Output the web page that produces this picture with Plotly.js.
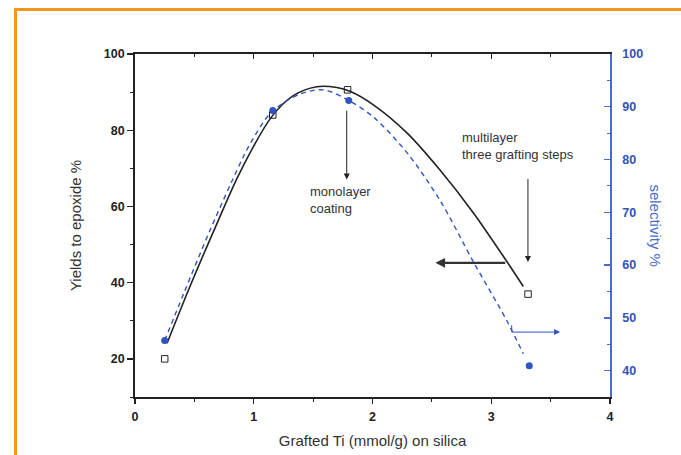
<!DOCTYPE html>
<html>
<head>
<meta charset="utf-8">
<script src="https://cdn.plot.ly/plotly-3.0.1.min.js"></script>
<style>
  html, body { margin: 0; padding: 0; background: #ffffff; }
  #wrap { position: relative; width: 681px; height: 455px; overflow: hidden; }
  #chart { width: 681px; height: 455px; }
  #frame {
    position: absolute; left: 14px; top: 8px; right: -10px; bottom: -10px;
    border-left: 3px solid #f7941d; border-top: 3px solid #f7941d;
    pointer-events: none;
  }
</style>
</head>
<body>
<div id="wrap">
  <div id="chart"></div>
  <div id="frame"></div>
</div>
<script>
// Measured samples: grafted Ti loading (mmol/g) vs. epoxide yield (%)
const graftedTi = [0.25, 1.16, 1.79, 3.31];
const yieldPct = [20, 84, 90.6, 37];

// Measured samples: grafted Ti loading vs. selectivity (%)
const graftedTiSel = [0.25, 1.16, 1.80, 3.32];
const selectivityPct = [45.7, 89.3, 91.2, 40.9];

// Guide curve through the yield data
const yieldCurveX = [0.27, 0.46, 0.69, 0.88, 1.15, 1.33, 1.53, 1.70, 1.81, 2.01, 2.29, 2.57, 2.85, 3.13, 3.27];
const yieldCurveY = [24.1, 38.8, 55.5, 68.7, 83.5, 89.0, 91.4, 91.2, 90.2, 86.6, 79.3, 69.5, 58.3, 45.6, 39.0];

// Guide curve through the selectivity data
const selCurveX = [0.25, 0.41, 0.63, 0.88, 0.97, 1.15, 1.39, 1.59, 1.80, 2.01, 2.29, 2.57, 2.85, 3.13, 3.27];
const selCurveY = [45.7, 54.6, 66.5, 79.0, 83.0, 89.0, 92.4, 93.2, 91.2, 88.0, 81.3, 72.2, 60.6, 49.5, 43.2];

// Axis ranges
const xRange = [0, 4];
const yieldRange = [10, 100];
const selRange = [35, 100];

const BLUE = '#2f55c4';
const AXBLUE = '#4a6cc8';
const INK = '#222222';
const FONT = 'Liberation Sans, Arial, sans-serif';

const traces = [
  {
    x: yieldCurveX, y: yieldCurveY, type: 'scatter', mode: 'lines',
    line: { color: INK, width: 1.6, shape: 'spline', smoothing: 0.9 },
    hoverinfo: 'skip', showlegend: false
  },
  {
    x: selCurveX, y: selCurveY, yaxis: 'y2', type: 'scatter', mode: 'lines',
    line: { color: BLUE, width: 1.4, dash: '5px,4px', shape: 'spline', smoothing: 0.9 },
    hoverinfo: 'skip', showlegend: false
  },
  {
    x: graftedTi, y: yieldPct, type: 'scatter', mode: 'markers',
    marker: { symbol: 'square-open', size: 6.5, color: INK, line: { width: 1 } },
    showlegend: false
  },
  {
    x: graftedTiSel, y: selectivityPct, yaxis: 'y2', type: 'scatter', mode: 'markers',
    marker: { symbol: 'circle', size: 7, color: BLUE },
    showlegend: false
  },
  {
    // carries the top frame axis
    x: [null], y: [null], xaxis: 'x2', type: 'scatter', mode: 'markers',
    hoverinfo: 'skip', showlegend: false
  }
];

const tickFont = { family: FONT, size: 12.5, color: INK, weight: 'bold' };

const layout = {
  width: 681, height: 455,
  margin: { l: 135, r: 71, t: 54, b: 58 },
  paper_bgcolor: '#ffffff', plot_bgcolor: '#ffffff',
  font: { family: FONT, color: INK },
  showlegend: false,
  xaxis: {
    range: xRange, dtick: 1, tick0: 0,
    showgrid: false, zeroline: false,
    showline: true, linecolor: INK, linewidth: 1.8,
    ticks: 'outside', ticklen: 5, tickwidth: 1.3, tickcolor: INK,
    minor: { dtick: 0.5, ticks: 'outside', ticklen: 3, tickwidth: 1, tickcolor: INK },
    tickfont: tickFont, ticklabelstandoff: 2,
    title: { text: 'Grafted Ti (mmol/g) on silica', font: { family: FONT, size: 15, color: '#333' }, standoff: 13 }
  },
  xaxis2: {
    overlaying: 'x', side: 'top', anchor: 'y', range: xRange, dtick: 1, tick0: 0,
    showgrid: false, zeroline: false, showticklabels: false,
    showline: true, linecolor: INK, linewidth: 1.8,
    ticks: 'inside', ticklen: 5, tickwidth: 1.3, tickcolor: INK,
    minor: { dtick: 0.5, ticks: 'inside', ticklen: 3, tickwidth: 1, tickcolor: INK }
  },
  yaxis: {
    range: yieldRange, dtick: 20, tick0: 0,
    showgrid: false, zeroline: false,
    showline: true, linecolor: INK, linewidth: 1.8,
    ticks: 'outside', ticklen: 6, tickwidth: 1.3, tickcolor: INK,
    minor: { dtick: 10, ticks: 'outside', ticklen: 3, tickwidth: 1, tickcolor: INK },
    tickfont: tickFont,
    title: { text: 'Yields to epoxide %', font: { family: FONT, size: 15, color: '#333' }, standoff: 18 }
  },
  yaxis2: {
    overlaying: 'y', side: 'right', anchor: 'x', range: selRange, dtick: 10, tick0: 0,
    showgrid: false, zeroline: false,
    showline: true, linecolor: AXBLUE, linewidth: 1.8,
    ticks: 'inside', ticklen: 6, tickwidth: 1.3, tickcolor: AXBLUE,
    minor: { dtick: 5, ticks: 'inside', ticklen: 3, tickwidth: 1, tickcolor: AXBLUE },
    ticklabelstandoff: 8,
    tickfont: { family: FONT, size: 12.5, color: '#3352b8', weight: 'bold' }
  },
  annotations: [
    {
      // right-axis title, reading downward
      xref: 'paper', yref: 'paper', x: 1.095, y: 0.5,
      text: 'selectivity %', textangle: 90, showarrow: false,
      xanchor: 'center', yanchor: 'middle',
      font: { family: FONT, size: 15, color: '#4a6cc8' }
    },
    {
      xref: 'x', yref: 'y', x: 1.46, y: 61.8, xanchor: 'left', yanchor: 'middle', align: 'left',
      text: 'monolayer<br>coating', showarrow: false,
      font: { family: FONT, size: 13, color: '#333' }
    },
    {
      xref: 'x', yref: 'y', x: 1.783, y: 67.1, axref: 'x', ayref: 'y', ax: 1.783, ay: 85.5,
      text: '', showarrow: true, arrowhead: 2, arrowsize: 1.2, arrowwidth: 1, arrowcolor: INK
    },
    {
      xref: 'x', yref: 'y', x: 2.74, y: 75.8, xanchor: 'left', yanchor: 'middle', align: 'left',
      text: 'multilayer<br>three grafting steps', showarrow: false,
      font: { family: FONT, size: 13, color: '#333' }
    },
    {
      xref: 'x', yref: 'y', x: 3.309, y: 45.4, axref: 'x', ayref: 'y', ax: 3.309, ay: 67.6,
      text: '', showarrow: true, arrowhead: 2, arrowsize: 1.2, arrowwidth: 1, arrowcolor: INK
    },
    {
      xref: 'x', yref: 'y', x: 2.53, y: 45.2, axref: 'x', ayref: 'y', ax: 3.13, ay: 45.2,
      text: '', showarrow: true, arrowhead: 2, arrowsize: 0.8, arrowwidth: 2.4, arrowcolor: '#333'
    },
    {
      xref: 'x', yref: 'y2', x: 3.58, y: 47.3, axref: 'x', ayref: 'y2', ax: 3.172, ay: 47.3,
      text: '', showarrow: true, arrowhead: 2, arrowsize: 1.2, arrowwidth: 1, arrowcolor: BLUE
    }
  ],
  shapes: [
    {
      // small riser at the start of the selectivity pointer
      type: 'line', xref: 'x', yref: 'y2', x0: 3.172, x1: 3.172, y0: 47.3, y1: 48.6,
      line: { color: BLUE, width: 1 }
    }
  ]
};

Plotly.newPlot('chart', traces, layout, { displayModeBar: false, staticPlot: true });
</script>
</body>
</html>
